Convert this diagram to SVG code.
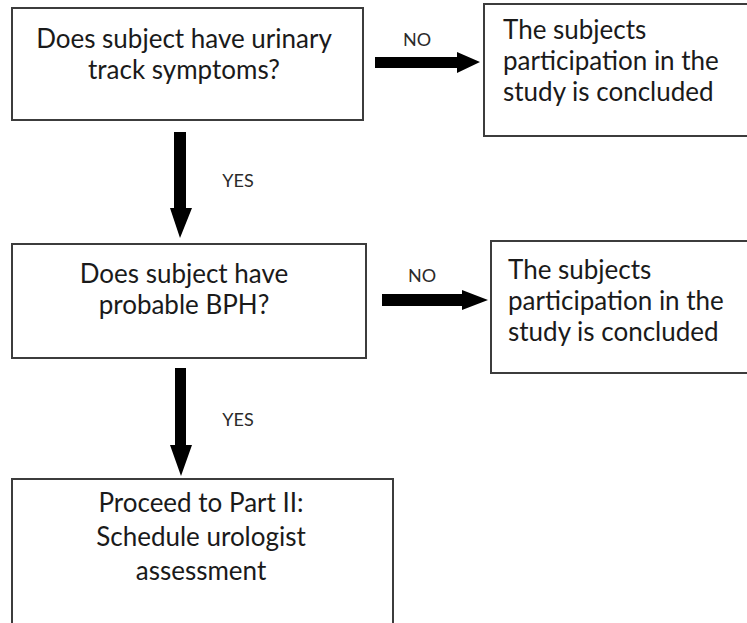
<svg xmlns="http://www.w3.org/2000/svg" width="747" height="623" viewBox="0 0 747 623">
<style>
.box{fill:#fff;stroke:#3c3c3c;stroke-width:2}
.t{font-family:Lato,"Liberation Sans",sans-serif;font-size:26px;fill:#1a1a1a}
.c{text-anchor:middle}
.lbl{font-family:Lato,"Liberation Sans",sans-serif;font-size:18px;fill:#2a2a2a;text-anchor:middle}
.arr{fill:#000}
</style>
<rect width="747" height="623" fill="#fff"/>
<g id="q1">
<rect class="box" x="12" y="8" width="351" height="112"/>
<text class="t c" x="184" y="48">Does subject have urinary</text>
<text class="t c" x="184" y="79">track symptoms?</text>
</g>
<g id="end1">
<rect class="box" x="484" y="4" width="270" height="132"/>
<text class="t" x="503" y="39">The subjects</text>
<text class="t" x="503" y="70">participation in the</text>
<text class="t" x="503" y="101">study is concluded</text>
</g>
<g id="q2">
<rect class="box" x="12" y="244" width="354" height="114"/>
<text class="t c" x="184" y="283">Does subject have</text>
<text class="t c" x="184" y="314">probable BPH?</text>
</g>
<g id="end2">
<rect class="box" x="491" y="241" width="270" height="132"/>
<text class="t" x="508" y="279">The subjects</text>
<text class="t" x="508" y="310">participation in the</text>
<text class="t" x="508" y="341">study is concluded</text>
</g>
<g id="part2">
<rect class="box" x="12" y="479" width="381" height="160"/>
<text class="t c" x="201" y="512">Proceed to Part II:</text>
<text class="t c" x="201" y="546">Schedule urologist</text>
<text class="t c" x="201" y="580">assessment</text>
</g>
<g id="connectors">
<polygon class="arr" points="375,57 457,57 457,52 480,62 457,73 457,68 375,68"/>
<text class="lbl" x="417" y="46">NO</text>
<polygon class="arr" points="382,294 462,294 462,290 488,300 462,310 462,306 382,306"/>
<text class="lbl" x="422" y="282">NO</text>
<polygon class="arr" points="174,132 186,132 186,208 192,208 180,238 170,208 174,208"/>
<text class="lbl" x="238" y="187">YES</text>
<polygon class="arr" points="175,368 186,368 186,445 192,445 181,476 170,445 175,445"/>
<text class="lbl" x="238" y="426">YES</text>
</g>
</svg>
